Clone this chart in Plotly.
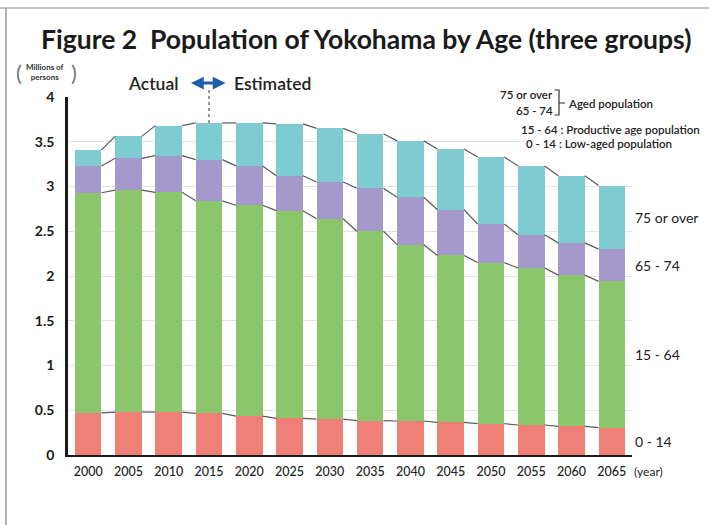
import numpy as np
import plotly.graph_objects as go

# ---- data (millions of persons) ----
years = [2000, 2005, 2010, 2015, 2020, 2025, 2030, 2035, 2040, 2045, 2050, 2055, 2060, 2065]
year_labels = [str(y) for y in years]
age_0_14 = [0.47, 0.48, 0.48, 0.465, 0.435, 0.41, 0.40, 0.385, 0.38, 0.365, 0.35, 0.335, 0.32, 0.305]
age_15_64 = [2.46, 2.48, 2.455, 2.375, 2.355, 2.32, 2.24, 2.115, 1.97, 1.865, 1.80, 1.755, 1.69, 1.635]
age_65_74 = [0.30, 0.355, 0.41, 0.46, 0.44, 0.39, 0.41, 0.48, 0.53, 0.51, 0.43, 0.37, 0.36, 0.36]
age_75_over = [0.18, 0.245, 0.335, 0.41, 0.48, 0.58, 0.60, 0.61, 0.63, 0.68, 0.75, 0.77, 0.75, 0.71]
series_names = ["0 - 14", "15 - 64", "65 - 74", "75 or over"]
y_ticks = [0, 0.5, 1, 1.5, 2, 2.5, 3, 3.5, 4]
y_tick_labels = ["0", "0.5", "1", "1.5", "2", "2.5", "3", "3.5", "4"]
boundary_year = 2015

# ---- layout geometry ----
W, H = 709, 525
L, R, T, B = 68, 77, 97, 70
PW, PH = W - L - R, H - T - B
Y_MAX = 4
BAR_W = 3.3

def px(x):
    return (x - L) / PW

def py(y):
    return (H - B - y) / PH

colors = ["#ef8078", "#8cc66c", "#a598cb", "#7ecbd1"]
series = [age_0_14, age_15_64, age_65_74, age_75_over]

FONT = "Lato, 'Open Sans', sans-serif"
fig = go.Figure()

for name, vals, col in zip(series_names, series, colors):
    fig.add_trace(go.Bar(x=years, y=vals, name=name, width=BAR_W,
                         marker=dict(color=col, line=dict(width=0))))

# connector lines between bar tops
cum = np.cumsum(np.array(series), axis=0)
for level in cum:
    xs, ys = [], []
    for i in range(len(years) - 1):
        xs += [years[i] + BAR_W / 2, years[i + 1] - BAR_W / 2, None]
        ys += [level[i], level[i + 1], None]
    fig.add_trace(go.Scatter(x=xs, y=ys, mode="lines", showlegend=False,
                             line=dict(color="#5a5a5a", width=1.2), hoverinfo="skip"))

total = cum[-1]
bi = years.index(boundary_year)

shapes = [
    # dotted actual/estimated boundary
    dict(type="line", xref="x", yref="paper", x0=boundary_year, x1=boundary_year,
         y0=total[bi] / Y_MAX, y1=py(88), line=dict(color="#555", width=1.2, dash="dot")),
    # frame lines
    dict(type="line", xref="paper", yref="paper", x0=px(0), x1=px(W), y0=py(8), y1=py(8),
         line=dict(color="#c4c4c4", width=2)),
    dict(type="line", xref="paper", yref="paper", x0=px(6), x1=px(6), y0=py(8), y1=py(H),
         line=dict(color="#9a9a9a", width=1.5)),
    # bracket for aged population
    dict(type="path", xref="paper", yref="paper",
         path=f"M {px(554)} {py(90)} L {px(559)} {py(90)} L {px(559)} {py(115)} L {px(554)} {py(115)} "
              f"M {px(559)} {py(103)} L {px(565)} {py(103)}",
         line=dict(color="#333", width=1.2)),
]

ann = []
# title
ann.append(dict(text="<b>Figure 2  Population of Yokohama by Age (three groups)</b>",
                xref="paper", yref="paper", x=px(366), y=py(39), xanchor="center", yanchor="middle",
                showarrow=False, font=dict(family=FONT, size=26.5, color="#1a1a1a")))
# units
ann.append(dict(text="<b>Millions of<br>persons</b>", xref="paper", yref="paper",
                x=px(45), y=py(72), xanchor="center", yanchor="middle", showarrow=False,
                font=dict(family=FONT, size=8, color="#333")))
ann.append(dict(text="(", xref="paper", yref="paper", x=px(19), y=py(72), showarrow=False,
                xanchor="center", yanchor="middle", font=dict(family=FONT, size=22, color="#777")))
ann.append(dict(text=")", xref="paper", yref="paper", x=px(74), y=py(72), showarrow=False,
                xanchor="center", yanchor="middle", font=dict(family=FONT, size=22, color="#777")))
# Actual <-> Estimated
ann.append(dict(text="Actual", xref="x", yref="paper", x=boundary_year, y=py(83), xshift=-29,
                xanchor="right", yanchor="middle", showarrow=False,
                font=dict(family=FONT, size=17.5, color="#222", weight=600)))
ann.append(dict(text="Estimated", xref="x", yref="paper", x=boundary_year, y=py(83), xshift=23,
                xanchor="left", yanchor="middle", showarrow=False,
                font=dict(family=FONT, size=17.5, color="#222", weight=600)))
ann.append(dict(text="", xref="x", yref="paper", x=boundary_year, y=py(83), xshift=-18,
                ax=36, ay=0, showarrow=True, arrowside="end+start", arrowhead=2,
                arrowsize=0.85, arrowwidth=3, arrowcolor="#1f5ea8"))
# top-right legend
small = dict(family=FONT, size=11.5, color="#222", weight=600)
ann.append(dict(text="75 or over", xref="paper", yref="paper", x=px(555), y=py(95),
                xanchor="right", yanchor="middle", showarrow=False, font=small, bgcolor="white"))
ann.append(dict(text="65 - 74", xref="paper", yref="paper", x=px(555), y=py(110),
                xanchor="right", yanchor="middle", showarrow=False, font=small, bgcolor="white"))
ann.append(dict(text="Aged population", xref="paper", yref="paper", x=px(566), y=py(103),
                xanchor="left", yanchor="middle", showarrow=False, font=small, bgcolor="white"))
ann.append(dict(text="15 - 64 : Productive age population", xref="paper", yref="paper", x=px(519), y=py(129),
                xanchor="left", yanchor="middle", showarrow=False, font=small, bgcolor="white"))
ann.append(dict(text="0 - 14 : Low-aged population", xref="paper", yref="paper", x=px(524), y=py(144),
                xanchor="left", yanchor="middle", showarrow=False, font=small, bgcolor="white"))
# right-side series labels at mid of last bar's segments
last_bottoms = np.concatenate([[0], cum[:-1, -1]])
for name, lo, hi in zip(series_names, last_bottoms, cum[:, -1]):
    ann.append(dict(text=name, xref="paper", yref="y", x=px(633), y=(lo + hi) / 2,
                    xanchor="left", yanchor="middle", showarrow=False,
                    font=dict(family=FONT, size=14, color="#222")))
# year unit
ann.append(dict(text="(year)", xref="paper", yref="paper", x=px(632), y=py(471),
                xanchor="left", yanchor="middle", showarrow=False,
                font=dict(family=FONT, size=12, color="#222")))

fig.update_layout(
    width=W, height=H, margin=dict(l=L, r=R, t=T, b=B, autoexpand=False),
    paper_bgcolor="white", plot_bgcolor="white",
    barmode="stack", bargap=0, showlegend=False,
    shapes=shapes, annotations=ann,
    xaxis=dict(range=[years[0] - 2.5, years[-1] + 2.5], tickmode="array", tickvals=years,
               ticktext=year_labels, showgrid=False, zeroline=False, showline=True,
               linecolor="#1a1a1a", linewidth=2, ticks="",
               tickfont=dict(family=FONT, size=12.5, color="#222", weight=500), ticklabelstandoff=4),
    yaxis=dict(range=[0, Y_MAX], tickmode="array", tickvals=y_ticks, ticktext=y_tick_labels,
               showgrid=True, gridcolor="#e3e3e3", gridwidth=1, zeroline=False,
               showline=True, linecolor="#1a1a1a", linewidth=2.5, ticks="",
               tickfont=dict(family=FONT, size=14, color="#1a1a1a", weight="bold"),
               ticklabelstandoff=8),
)

fig.write_html("out.html", config={"displayModeBar": False},
               post_script="document.body.style.margin='0';")
